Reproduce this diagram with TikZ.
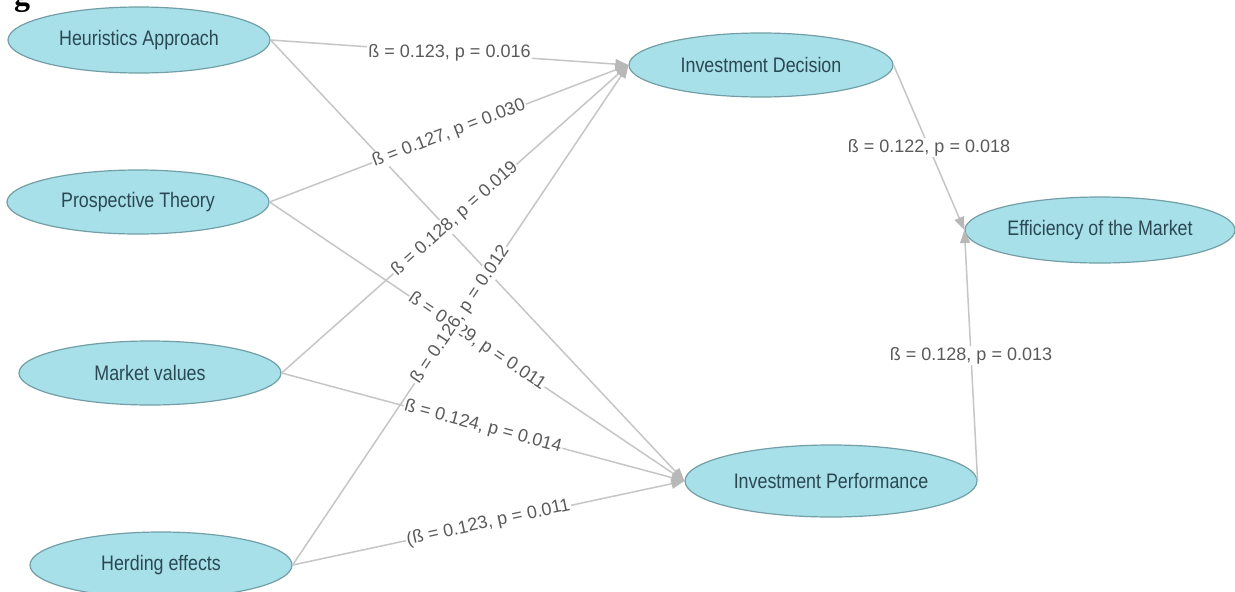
\documentclass[tikz,border=0pt]{standalone}
\usepackage{fontspec}
\setmainfont{Liberation Sans}
\newfontfamily\nodefont[FakeStretch=0.85]{Liberation Sans}
\newfontfamily\capfont{Liberation Serif}
\usetikzlibrary{shapes.geometric,arrows.meta}
\definecolor{ellfill}{HTML}{A8E0EA}
\definecolor{elldraw}{HTML}{729FA6}
\definecolor{elltext}{HTML}{2A4852}
\definecolor{edgecol}{HTML}{C6C6C6}
\definecolor{tipcol}{HTML}{B8B8B8}
\definecolor{labcol}{HTML}{5A5A5A}
\begin{document}
\begin{tikzpicture}[x=1pt,y=-1pt,
  var/.style={ellipse, draw=elldraw, line width=1.2pt, fill=ellfill, inner sep=0pt,
    text=elltext, font=\nodefont\fontsize{21}{24}\selectfont},
  edge/.style={draw=edgecol, line width=1.5pt, -{Triangle[length=13pt,width=10pt,color=tipcol]}},
  lab/.style={fill=white, inner sep=1pt, text=labcol, font=\fontsize{18}{20}\selectfont}]
\clip (0,0) rectangle (1235,592);
\fill[white] (0,0) rectangle (1235,592);
\useasboundingbox (0,0) rectangle (1235,592);

\node[font=\capfont\bfseries\fontsize{32}{32}\selectfont, anchor=base, inner sep=0pt] (gfrag) at (22,5) {g};

\node[var, minimum width=262pt, minimum height=66pt] (heur) at (139,40) {Heuristics Approach};
\node[var, minimum width=262pt, minimum height=64pt] (pros) at (138,202) {Prospective Theory};
\node[var, minimum width=262pt, minimum height=64pt] (mark) at (150,373) {Market values};
\node[var, minimum width=262pt, minimum height=66pt] (herd) at (161,565) {Herding effects};
\node[var, minimum width=264pt, minimum height=64pt] (dec) at (761,65) {Investment Decision};
\node[var, minimum width=292pt, minimum height=72pt] (perf) at (831,481) {Investment Performance};
\node[var, minimum width=270pt, minimum height=66pt] (eff) at (1100,230) {Efficiency of the Market};

% connectors
\draw[edge] (heur.east) -- (dec.west);
\draw[edge] (pros.east) -- (dec.west);
\draw[edge] (mark.east) -- (dec.west);
\draw[edge] (herd.east) -- (dec.west);
\draw[edge] (heur.east) -- (perf.west);
\draw[edge] (pros.east) -- (perf.west);
\draw[edge] (mark.east) -- (perf.west);
\draw[edge] (herd.east) -- (perf.west);
\draw[edge] (dec.east) -- (eff.west);
\draw[edge] (perf.east) -- (eff.west);

% labels
\path (heur.east) -- (dec.west) node[lab, pos=0.5] (l1) {ß = 0.123, p = 0.016};
\path (pros.east) -- (dec.west) node[lab, pos=0.5, sloped] (l2) {ß = 0.127, p = 0.030};
\path (mark.east) -- (dec.west) node[lab, pos=0.5, sloped] (l3) {ß = 0.128, p = 0.019};
\path (pros.east) -- (perf.west) node[lab, pos=0.5, sloped] (l5) {ß = 0.129, p = 0.011};
\path (herd.east) -- (dec.west) node[lab, pos=0.5, sloped] (l4) {ß = 0.126, p = 0.012};
\path (mark.east) -- (perf.west) node[lab, pos=0.5, sloped] (l6) {ß = 0.124, p = 0.014};
\path (herd.east) -- (perf.west) node[lab, pos=0.5, sloped] (l7) {(ß = 0.123, p = 0.011};
\path (dec.east) -- (eff.west) node[lab, pos=0.5] (l8) {ß = 0.122, p = 0.018};
\path (perf.east) -- (eff.west) node[lab, pos=0.5] (l9) {ß = 0.128, p = 0.013};
\end{tikzpicture}
\end{document}
